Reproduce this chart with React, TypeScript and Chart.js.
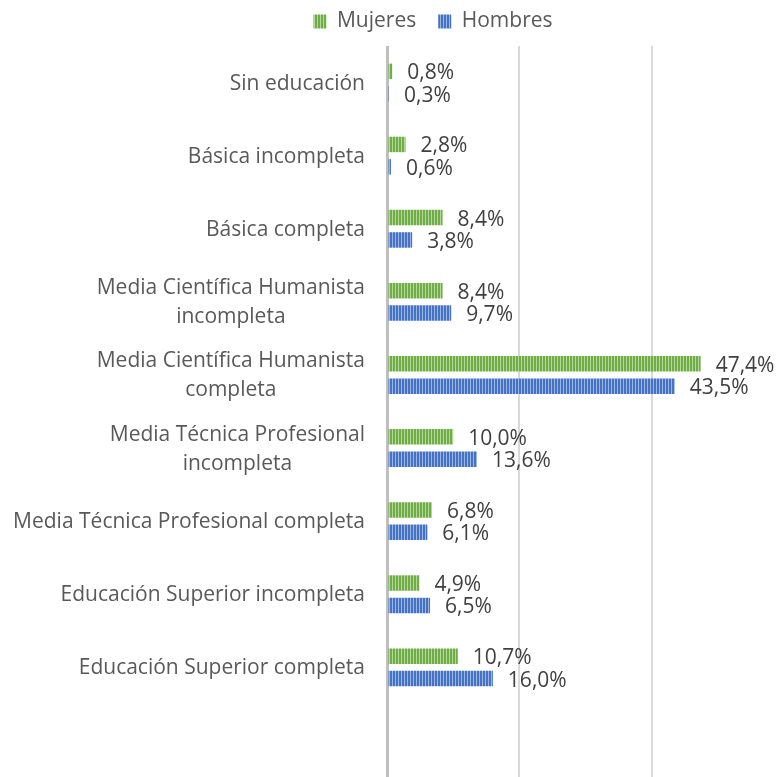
import { useEffect, useRef } from 'react';
import { Chart, registerables } from 'chart.js';
Chart.register(...registerables);

const categories: (string | string[])[] = [
  'Sin educación',
  'Básica incompleta',
  'Básica completa',
  ['Media Científica Humanista', 'incompleta'],
  ['Media Científica Humanista', 'completa'],
  ['Media Técnica Profesional', 'incompleta'],
  'Media Técnica Profesional completa',
  'Educación Superior incompleta',
  'Educación Superior completa',
  '',
];
const seriesNames = ['Mujeres', 'Hombres'];
const mujeres: (number | null)[] = [0.8, 2.8, 8.4, 8.4, 47.4, 10.0, 6.8, 4.9, 10.7, null];
const hombres: (number | null)[] = [0.3, 0.6, 3.8, 9.7, 43.5, 13.6, 6.1, 6.5, 16.0, null];
const xTicks = { min: 0, max: 60, step: 20 };

const FONT = '"Open Sans"';
const SIZE = 21;

const fmt = (v: number) => v.toFixed(1).replace('.', ',') + '%';

function stripe(ctx: CanvasRenderingContext2D, dark: string, light: string) {
  const c = document.createElement('canvas');
  c.width = 3;
  c.height = 3;
  const g = c.getContext('2d')!;
  g.fillStyle = dark;
  g.fillRect(0, 0, 3, 3);
  g.fillStyle = light;
  g.fillRect(2, 0, 1, 3);
  return ctx.createPattern(c, 'repeat')!;
}

export default function App() {
  const ref = useRef<HTMLCanvasElement>(null);
  useEffect(() => {
    const canvas = ref.current!;
    const ctx = canvas.getContext('2d')!;
    const green = stripe(ctx, '#70AD47', '#B5D99C');
    const blue = stripe(ctx, '#4472C4', '#9DB5E3');

    const customPlugin = {
      id: 'custom',
      beforeInit(chart: any) {
        const legend = chart.legend;
        if (legend) {
          const fit = legend.fit;
          legend.fit = function () {
            fit.call(this);
            this.height = 46;
          };
        }
      },
      beforeDraw(chart: any) {
        const legend = chart.legend;
        if (legend && !legend._shifted) {
          legend.left += 41;
          legend.right += 41;
          legend.top -= 11;
          legend._shifted = true;
        }
      },
      afterLayout(chart: any) {
        if (chart.legend) chart.legend._shifted = false;
      },
      afterDatasetsDraw(chart: any) {
        const c = chart.ctx;
        c.save();
        c.font = `${SIZE}px ${FONT}`;
        c.fillStyle = '#404040';
        c.textBaseline = 'middle';
        c.textAlign = 'left';
        chart.data.datasets.forEach((ds: any, di: number) => {
          const meta = chart.getDatasetMeta(di);
          meta.data.forEach((bar: any, i: number) => {
            const v = ds.data[i];
            if (v == null) return;
            c.fillText(fmt(v), bar.x + 15, bar.y + 2);
          });
        });
        // category labels
        const ys = chart.scales.y;
        c.fillStyle = '#595959';
        c.textAlign = 'center';
        const right = ys.right - 22;
        const lh = 29;
        categories.forEach((lab, i) => {
          const lines = Array.isArray(lab) ? lab : [lab];
          if (!lines[0]) return;
          const w = Math.max(...lines.map((l) => c.measureText(l).width));
          const cx = right - w / 2;
          const cy = ys.getPixelForValue(i);
          const y0 = cy - ((lines.length - 1) * lh) / 2 + 1;
          lines.forEach((l, k) => c.fillText(l, cx, y0 + k * lh));
        });
        c.restore();
      },
    };

    const chart = new Chart(canvas, {
      type: 'bar',
      data: {
        labels: categories as any,
        datasets: [
          {
            label: seriesNames[0],
            data: mujeres,
            backgroundColor: green,
            borderWidth: 0,
            categoryPercentage: 0.613,
            barPercentage: 0.69,
          },
          {
            label: seriesNames[1],
            data: hombres,
            backgroundColor: blue,
            borderWidth: 0,
            categoryPercentage: 0.613,
            barPercentage: 0.69,
          },
        ],
      },
      options: {
        indexAxis: 'y',
        responsive: false,
        animation: false,
        layout: { padding: 0 },
        scales: {
          x: {
            min: xTicks.min,
            max: xTicks.max,
            ticks: { display: false, stepSize: xTicks.step },
            border: { display: false },
            grid: {
              drawTicks: false,
              color: (c: any) => (c.tick && c.tick.value === 0 ? '#BFBFBF' : '#D9D9D9'),
              lineWidth: (c: any) => (c.tick && c.tick.value === 0 ? 3 : 2),
            },
          },
          y: {
            ticks: { display: false },
            grid: { display: false },
            border: { display: false },
            afterFit: (s: any) => {
              s.width = 387;
            },
          },
        },
        plugins: {
          legend: {
            position: 'top',
            labels: {
              boxWidth: 13,
              boxHeight: 14,
              padding: 22,
              color: '#595959',
              font: { family: FONT, size: SIZE },
            },
          },
          tooltip: { enabled: false },
        },
      },
      plugins: [customPlugin],
    });
    return () => chart.destroy();
  }, []);

  return (
    <div style={{ position: 'fixed', left: 0, top: 0, width: 778, height: 777, overflow: 'hidden', background: '#fff' }}>
      <canvas ref={ref} width={784} height={777} style={{ display: 'block' }} />
    </div>
  );
}
